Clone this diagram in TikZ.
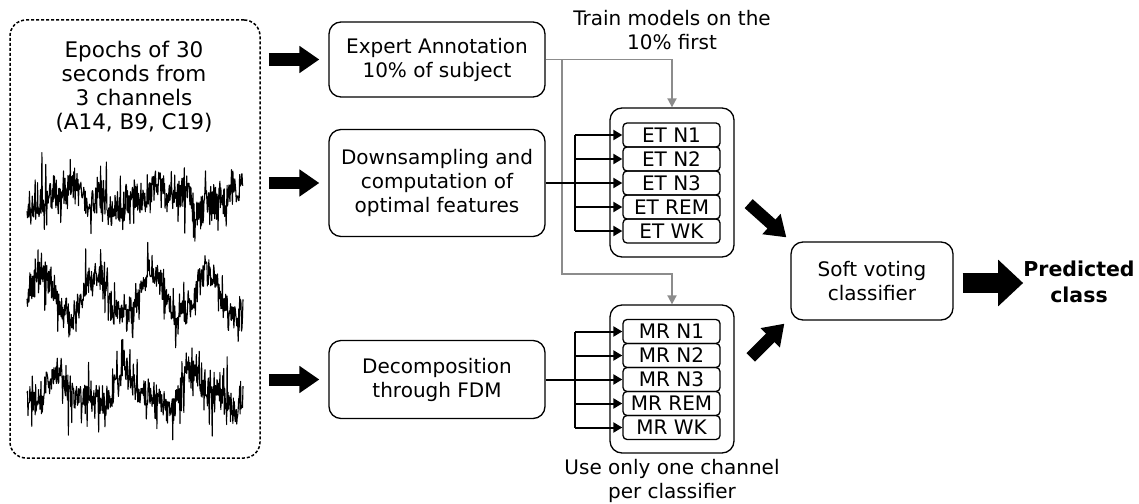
\documentclass[tikz,border=0pt]{standalone}
\usepackage{fontspec}
\setmainfont{DejaVu Sans}
\usetikzlibrary{arrows.meta,calc}

\begin{document}
\begin{tikzpicture}[x=1pt,y=-1pt,
  txt/.style={font=\fontsize{20}{24}\selectfont, align=center, inner sep=0pt},
  box/.style={draw, line width=1.3pt, rounded corners=12pt,
    font=\fontsize{20}{24}\selectfont, align=center, inner sep=0pt},
  cls/.style={draw, line width=1.3pt, rounded corners=4pt, minimum width=97pt,
    minimum height=24pt, inner sep=0pt, font=\fontsize{20}{20}\selectfont},
  feed/.style={line width=2pt, -{Triangle[length=9pt,width=10pt]}},
  busline/.style={line width=2pt},
  graylink/.style={draw=black!45, line width=1.8pt},
  grayarrow/.style={graylink, -{Triangle[length=9pt,width=9pt]}},
  blockarrow/.style={line width=12pt, -{Triangle[length=20pt,width=26pt]}},
  wave/.style={line width=1.1pt, line join=round},
]
\useasboundingbox (0,0) rectangle (1139,503);

% input signals
\node[draw, line width=1.5pt, dash pattern=on 3pt off 2pt, rounded corners=16pt,
  minimum width=250pt, minimum height=438pt, inner sep=0pt] (src) at (135,239) {};
\node[txt, font=\fontsize{21.5}{24}\selectfont] (title) at (134,87)
  {Epochs of 30\\seconds from\\ 3 channels\\(A14, B9, C19)};

\pgfmathsetseed{7}
\draw[wave] plot[domain=27:243, samples=450]
  (\x, {198 + 9*sin(4*\x) + 6*sin(13*\x+30) + 15*rand + 45*rand*rand*rand});
\pgfmathsetseed{21}
\draw[wave] plot[domain=27:243, samples=450]
  (\x, {296 - 22*sin(6.5*(\x-83)) + 14*rand + 38*rand*rand*rand});
\pgfmathsetseed{33}
\draw[wave] plot[domain=27:243, samples=450]
  (\x, {392 - 14*sin(5.2*(\x-40)) + 7*sin(11*\x) + 15*rand + 45*rand*rand*rand});

% processing steps
\node[box, minimum width=216pt, minimum height=75pt] (ea) at (437,59.5)
  {Expert Annotation\\10\% of subject};
\node[box, minimum width=216pt, minimum height=107pt] (ds) at (437,183)
  {Downsampling and\\computation of\\optimal features};
\node[box, minimum width=216pt, minimum height=78pt] (dec) at (437,379.5)
  {Decomposition\\through FDM};

\foreach \b in {ea,ds,dec}
  \draw[blockarrow] ([xshift=8pt]src.east |- \b.west) -- ([xshift=-9pt]\b.west);

% classifier groups
\node[box, minimum width=124pt, minimum height=149pt] (et) at (672,182.5) {};
\foreach \n/\lab [count=\i from 0] in {n1/N1,n2/N2,n3/N3,rem/REM,wk/WK}
  \node[cls] (et\n) at (671.5,{135+24*\i}) {ET \lab};

\node[box, minimum width=124pt, minimum height=148pt] (mr) at (672,379) {};
\foreach \n/\lab [count=\i from 0] in {n1/N1,n2/N2,n3/N3,rem/REM,wk/WK}
  \node[cls] (mr\n) at (671.5,{331.5+24*\i}) {MR \lab};

\node[txt] (train) at (672,30) {Train models on the\\10\% first};
\node[txt] (use) at (672,481) {Use only one channel\\per classifier};

% training data links
\coordinate (gsplit) at ($(ea.east)+(16,0)$);
\draw[grayarrow] (ea.east) -| (et.north);
\draw[grayarrow] (gsplit) |- ($(mr.north)+(0,-30)$) -- (mr.north);

% feature feeds
\draw[feed] (ds.east) -- (ds.east -| etn3.west);
\draw[busline] ($(etn1.west)+(-47,0)$) -- ($(etwk.west)+(-47,0)$);
\foreach \n in {n1,n2,rem,wk}
  \draw[feed] ($(et\n.west)+(-47,0)$) -- (et\n.west);

\draw[feed] (dec.east) -- (dec.east -| mrn3.west);
\draw[busline] ($(mrn1.west)+(-47,0)$) -- ($(mrwk.west)+(-47,0)$);
\foreach \n in {n1,n2,rem,wk}
  \draw[feed] ($(mr\n.west)+(-47,0)$) -- (mr\n.west);

% voting
\node[box, minimum width=162pt, minimum height=78pt] (sv) at (872,281)
  {Soft voting\\classifier};
\node[txt, font=\bfseries\fontsize{20.5}{26}\selectfont] (pred) at (1079,281.5)
  {Predicted\\class};

\draw[blockarrow] ($(et.south east)+(14,-54)$) -- ($(sv.north west)+(-4,-4)$);
\draw[blockarrow] ($(mr.north east)+(16,53)$) -- ($(sv.south west)+(-6,3)$);
\draw[line width=20pt, -{Triangle[length=25pt,width=45pt]}]
  ($(sv.east)+(9,2)$) -- ($(pred.west)+(0,1.5)$);
\end{tikzpicture}
\end{document}
